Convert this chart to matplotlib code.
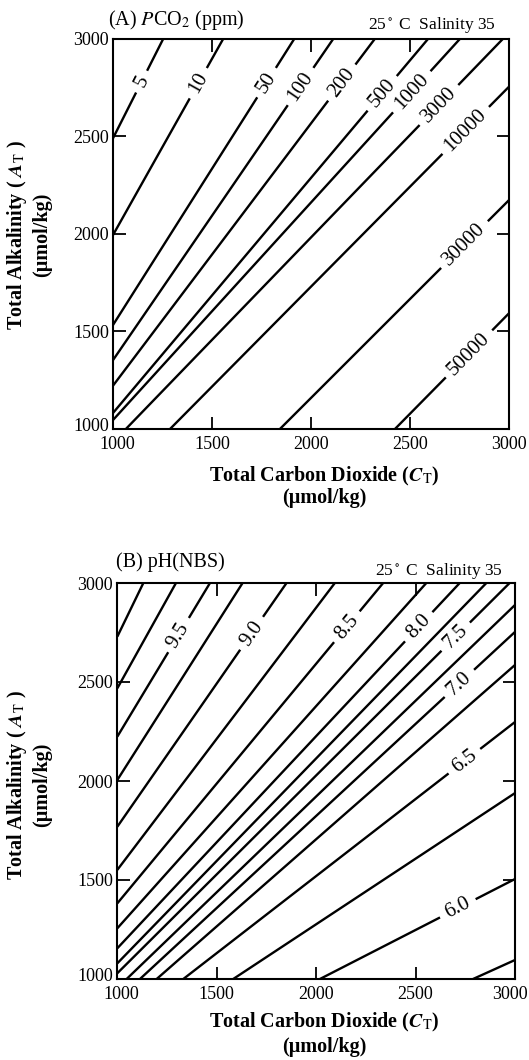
import numpy as np
import matplotlib
matplotlib.use("Agg")
import matplotlib.pyplot as plt
import matplotlib.transforms as mtransforms

plt.rcParams['font.family'] = ['Liberation Serif', 'DejaVu Serif']
plt.rcParams['mathtext.fontset'] = 'stix'

# ---------------- Panel A : PCO2 (ppm) contours ----------------
pco2_levels   = [5, 10, 50, 100, 200, 500, 1000, 3000, 10000, 30000, 50000]
pco2_start_ct = [1000, 1000, 1000, 1000, 1000, 1000, 1000, 1065, 1288, 1843, 2424]
pco2_start_at = [2490, 1994, 1533, 1353, 1222, 1082, 1046, 1000, 1000, 1000, 1000]
pco2_end_ct   = [1254, 1557, 1916, 2113, 2323, 2592, 2753, 2970, 3000, 3000, 3000]
pco2_end_at   = [3000, 3000, 3000, 3000, 3000, 3000, 3000, 3000, 2754, 2173, 1593]
pco2_label_at = [2780, 2772, 2775, 2755, 2775, 2720, 2728, 2660, 2530, 1945, 1385]
pco2_label_txt = ['5', '10', '50', '100', '200', '500', '1000', '3000',
                  '10000', '30000', '50000']

# ---------------- Panel B : pH(NBS) contours ----------------
ph_levels   = [10.0, 9.75, 9.5, 9.25, 9.0, 8.75, 8.5, 8.25, 8.0, 7.75, 7.5,
               7.25, 7.0, 6.75, 6.5, 6.25, 6.0, 5.75]
ph_start_ct = [1000, 1000, 1000, 1000, 1000, 1000, 1000, 1000, 1000, 1000, 1000,
               1047, 1114, 1198, 1332, 1583, 2019, 2789]
ph_start_at = [2729, 2468, 2224, 2005, 1769, 1551, 1382, 1256, 1155, 1079, 1029,
               1000, 1000, 1000, 1000, 1000, 1000, 1000]
ph_end_ct   = [1131, 1295, 1466, 1630, 1851, 2094, 2337, 2554, 2722, 2856, 2973,
               3000, 3000, 3000, 3000, 3000, 3000, 3000]
ph_end_at   = [3000, 3000, 3000, 3000, 3000, 3000, 3000, 3000, 3000, 3000, 3000,
               2889, 2753, 2586, 2298, 1939, 1505, 1096]
ph_label_levels = [9.5, 9.0, 8.5, 8.0, 7.5, 7.0, 6.5, 6.0]
ph_label_at     = [2737, 2746, 2779, 2779, 2729, 2493, 2100, 1357]
ph_label_txt    = ['9.5', '9.0', '8.5', '8.0', '7.5', '7.0', '6.5', '6.0']

ticks = [1000, 1500, 2000, 2500, 3000]
tick_labels = ['1000', '1500', '2000', '2500', '3000']

W, H = 529, 1060
fig = plt.figure(figsize=(W / 100, H / 100), dpi=100)
fig.patch.set_facecolor('white')

axA = fig.add_axes([113 / W, (H - 429) / H, 396 / W, 390.3 / H])
axB = fig.add_axes([117.3 / W, (H - 979) / H, 397.7 / W, 396 / H])

LW = 1.7
LABEL_FS = 15


def style_axes(ax):
    ax.set_xlim(1000, 3000)
    ax.set_ylim(1000, 3000)
    ax.set_xticks(ticks)
    ax.set_xticklabels(tick_labels)
    ax.set_yticks(ticks)
    ax.set_yticklabels(tick_labels)
    ax.tick_params(direction='in', length=9, width=1.3, top=True, right=True,
                   labelsize=13, colors='black')
    ax.tick_params(axis='y', pad=3)
    ax.tick_params(axis='x', pad=5)
    for s in ax.spines.values():
        s.set_linewidth(1.5)
    # the lowest left label sits a little above its tick, as in the reference
    lab = ax.get_yticklabels()[0]
    lab.set_transform(lab.get_transform() +
                      mtransforms.ScaledTranslation(0, 3 / 72, fig.dpi_scale_trans))
    lab = ax.get_xticklabels()[0]
    lab.set_transform(lab.get_transform() +
                      mtransforms.ScaledTranslation(3 / 72, 0, fig.dpi_scale_trans))


def draw_lines(ax, sct, sat, ect, eat, lab_idx, lab_at, lab_txt):
    T = ax.transData
    Ti = T.inverted()
    labmap = {i: (a, t) for i, a, t in zip(lab_idx, lab_at, lab_txt)}
    em = LABEL_FS * 100 / 72.0
    for i in range(len(sct)):
        if i not in labmap:
            ax.plot([sct[i], ect[i]], [sat[i], eat[i]], color='black', lw=LW,
                    solid_capstyle='butt')
            continue
        at, txt = labmap[i]
        p0 = T.transform((sct[i], sat[i]))
        p1 = T.transform((ect[i], eat[i]))
        t = (at - sat[i]) / (eat[i] - sat[i])
        pc = p0 + t * (p1 - p0)
        d = p1 - p0
        u = d / np.hypot(*d)
        ang = np.degrees(np.arctan2(u[1], u[0]))
        nd = sum(1 for ch in txt if ch.isdigit())
        npd = txt.count('.')
        g = 0.5 * (nd * 0.5 * em + npd * 0.25 * em) + 7
        a = Ti.transform(pc - g * u)
        b = Ti.transform(pc + g * u)
        c = Ti.transform(pc)
        ax.plot([sct[i], a[0]], [sat[i], a[1]], color='black', lw=LW,
                solid_capstyle='butt')
        ax.plot([b[0], ect[i]], [b[1], eat[i]], color='black', lw=LW,
                solid_capstyle='butt')
        ax.text(c[0], c[1], txt, rotation=ang, rotation_mode='anchor',
                ha='center', va='center', fontsize=LABEL_FS)


style_axes(axA)
style_axes(axB)

# keep the right-most x label of panel B inside the picture
labB = axB.get_xticklabels()[-1]
labB.set_transform(labB.get_transform() +
                   mtransforms.ScaledTranslation(-4 / 72, 0, fig.dpi_scale_trans))

draw_lines(axA, pco2_start_ct, pco2_start_at, pco2_end_ct, pco2_end_at,
           list(range(len(pco2_levels))), pco2_label_at, pco2_label_txt)
ph_idx = [ph_levels.index(v) for v in ph_label_levels]
draw_lines(axB, ph_start_ct, ph_start_at, ph_end_ct, ph_end_at,
           ph_idx, ph_label_at, ph_label_txt)

# ---------------- Texts ----------------
def fx(x):
    return x / W


def fy(y):
    return 1 - y / H


fig.text(fx(108), fy(20), r'(A) $P$CO$_2$ (ppm)', fontsize=14.5, ha='left', va='center')
fig.text(fx(496), fy(25), r'25$^\circ$ C  Salinity 35', fontsize=12.5, ha='right', va='center')
fig.text(fx(116), fy(562), '(B) pH(NBS)', fontsize=14.5, ha='left', va='center')
fig.text(fx(503), fy(571), r'25$^\circ$ C  Salinity 35', fontsize=12.5, ha='right', va='center')

ylab = r'Total Alkalinity ( $\mathbfit{A}_{\mathrm{T}}$ )'
xlab = r'Total Carbon Dioxide ($\mathbfit{C}_{\mathrm{T}}$)'
unit = '(\u03bcmol/kg)'

for yc, xl1, xl2, xc in [(235, 476, 498, 324), (785, 1022, 1047, 324)]:
    fig.text(fx(17), fy(yc), ylab, rotation=90, fontsize=14.5, fontweight='bold',
             ha='center', va='center')
    fig.text(fx(42), fy(yc), unit, rotation=90, fontsize=14.5, fontweight='bold',
             ha='center', va='center')
    fig.text(fx(xc), fy(xl1), xlab, fontsize=14.5, fontweight='bold',
             ha='center', va='center')
    fig.text(fx(xc), fy(xl2), unit, fontsize=14.5, fontweight='bold',
             ha='center', va='center')

fig.savefig('out.png', dpi=100, facecolor='white')
